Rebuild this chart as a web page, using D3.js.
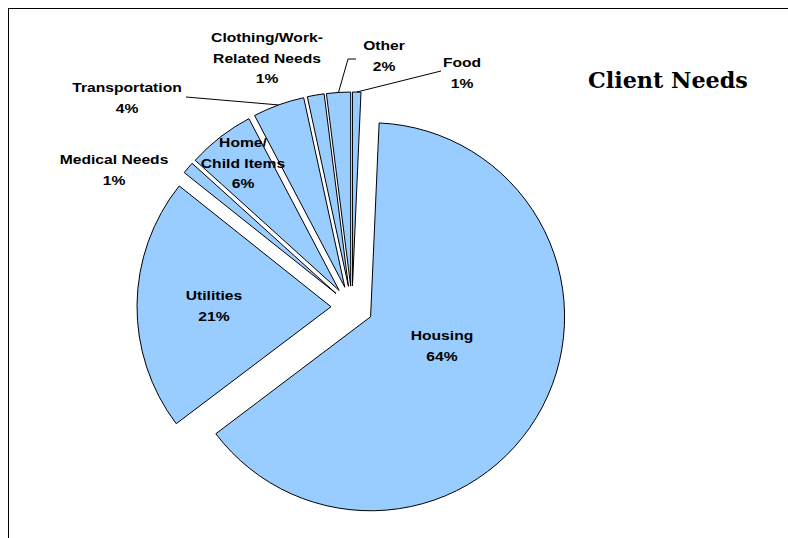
<!DOCTYPE html>
<html>
<head>
<meta charset="utf-8">
<script src="https://cdn.jsdelivr.net/npm/d3@7"></script>
<style>
  html, body { margin: 0; padding: 0; background: #fff; }
  svg { display: block; }
</style>
</head>
<body>
<div id="chart"></div>
<script>
// ---- data ----
const categories = ["Food", "Housing", "Utilities", "Medical Needs", "Home/Child Items", "Transportation", "Clothing/Work-Related Needs", "Other"];
const values = [0.7, 64.0, 21.0, 1.0, 5.6, 4.3, 1.4, 2.0];
const labelLines = [["Food"], ["Housing"], ["Utilities"], ["Medical Needs"], ["Home/", "Child Items"], ["Transportation"], ["Clothing/Work-", "Related Needs"], ["Other"]];
const title = "Client Needs";

// ---- layout ----
const W = 788, H = 538;
const cx = 352, cy = 307, R = 194, explode = 21;
const lineGap = 20.7;
const labelPos = {
  "Food": [462, 62],
  "Housing": [442, 335],
  "Utilities": [214, 295],
  "Medical Needs": [114, 159],
  "Home/Child Items": [243, 142],
  "Transportation": [127, 87],
  "Clothing/Work-Related Needs": [267, 37],
  "Other": [384, 45]
};
// leader line starts (label side), end is computed on the slice arc
const leaderStart = {
  "Transportation": [[186, 97]],
  "Other": [[356, 59], [348, 59]],
  "Food": [[441, 71]]
};

const svg = d3.select("#chart").append("svg").attr("width", W).attr("height", H);

// frame
svg.append("rect").attr("x", 8.5).attr("y", 8.5).attr("width", 900).attr("height", 700)
  .attr("fill", "none").attr("stroke", "#000").attr("stroke-width", 1);

const total = d3.sum(values);
const data = categories.map((c, i) => ({ name: c, value: values[i], lines: labelLines[i] }));
const pie = d3.pie().value(d => d.value).sort(null).startAngle(0).endAngle(2 * Math.PI);
const arcs = pie(data);
const arc = d3.arc().innerRadius(0).outerRadius(R);

function offset(a) {
  const mid = (a.startAngle + a.endAngle) / 2;
  return [explode * Math.sin(mid), -explode * Math.cos(mid)];
}

const g = svg.append("g").attr("transform", `translate(${cx},${cy})`);
g.selectAll("path.slice").data(arcs).join("path")
  .attr("class", "slice")
  .attr("d", arc)
  .attr("transform", d => { const o = offset(d); return `translate(${o[0]},${o[1]})`; })
  .attr("fill", "#99CCFF")
  .attr("stroke", "#000")
  .attr("stroke-width", 1)
  .attr("stroke-linejoin", "miter");

// leader lines
arcs.forEach(a => {
  const st = leaderStart[a.data.name];
  if (!st) return;
  const o = offset(a);
  const mid = (a.startAngle + a.endAngle) / 2;
  const ex = cx + o[0] + R * Math.sin(mid);
  const ey = cy + o[1] - R * Math.cos(mid);
  const pts = st.concat([[ex, ey]]);
  svg.append("path").attr("d", d3.line()(pts)).attr("fill", "none")
    .attr("stroke", "#000").attr("stroke-width", 1);
});

// labels
const fs = 13.5, sx = 1.16;
arcs.forEach(a => {
  const p = labelPos[a.data.name];
  const lines = a.data.lines.concat([Math.round(a.data.value / total * 100) + "%"]);
  const tg = svg.append("g").attr("transform", `translate(${p[0]},${p[1]}) scale(${sx},1)`);
  lines.forEach((t, i) => {
    tg.append("text")
      .attr("x", 0).attr("y", i * lineGap + fs * 0.36)
      .attr("text-anchor", "middle")
      .attr("font-family", "'Liberation Sans', Arial, sans-serif")
      .attr("font-weight", "bold")
      .attr("font-size", fs)
      .attr("fill", "#000")
      .text(t);
  });
});

// title
const tt = svg.append("text")
  .attr("x", 0).attr("y", 0)
  .attr("font-family", "'Palatino Linotype', 'Book Antiqua', Palatino, 'DejaVu Serif', serif")
  .attr("font-weight", "bold")
  .attr("font-size", 22)
  .attr("fill", "#000")
  .text(title);
const tw = tt.node().getComputedTextLength();
const tsx = 160 / tw;
tt.attr("transform", `translate(588,88) scale(${tsx},1)`);
</script>
</body>
</html>
